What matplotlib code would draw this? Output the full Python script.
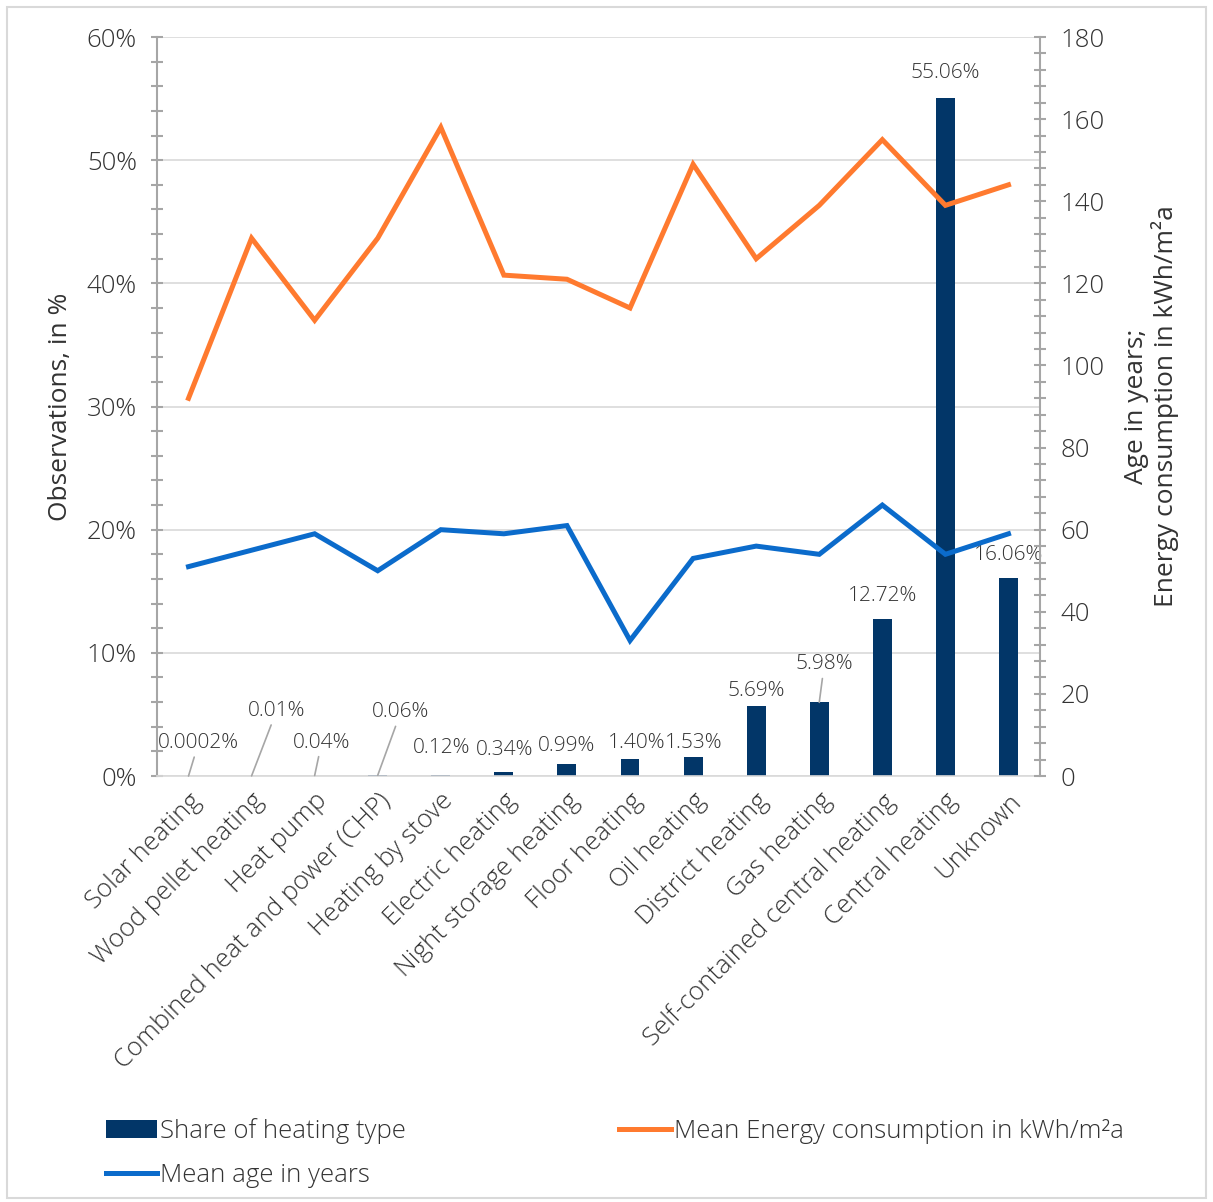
import matplotlib.pyplot as plt
from matplotlib.patches import Rectangle
from matplotlib.ticker import MultipleLocator, FuncFormatter

plt.rcParams['font.family'] = ['Open Sans', 'DejaVu Sans']
plt.rcParams['font.weight'] = 'light'

categories = ["Solar heating", "Wood pellet heating", "Heat pump",
              "Combined heat and power (CHP)", "Heating by stove", "Electric heating",
              "Night storage heating", "Floor heating", "Oil heating", "District heating",
              "Gas heating", "Self-contained central heating", "Central heating", "Unknown"]
share = [0.0002, 0.01, 0.04, 0.06, 0.12, 0.34, 0.99, 1.40, 1.53, 5.69, 5.98, 12.72, 55.06, 16.06]
share_labels = ["0.0002%", "0.01%", "0.04%", "0.06%", "0.12%", "0.34%", "0.99%", "1.40%",
                "1.53%", "5.69%", "5.98%", "12.72%", "55.06%", "16.06%"]
energy = [92, 131, 111, 131, 158, 122, 121, 114, 149, 126, 139, 155, 139, 144]
age = [51, 55, 59, 50, 60, 59, 61, 33, 53, 56, 54, 66, 54, 59]

# label offsets in pixels (dx, dy) and whether a leader line is drawn
label_pos = [(10, 33, True), (25, 65, True), (7, 33, True), (23, 63, True),
             (1, 27, False), (1, 22, False), (0, 18, False), (7, 16, False),
             (1, 14, False), (0, 15, False), (5, 38, True), (0, 23, False),
             (0, 25, False), (0, 23, False)]

navy = '#023668'
orange = '#FF7A2F'
blue = '#0B6BCB'
txt = '#333333'
tick_gray = '#A6A6A6'

fig = plt.figure(figsize=(12.13, 12.02), dpi=100)
fig.patches.append(Rectangle((0.006, 0.003), 0.988, 0.991, transform=fig.transFigure,
                             fill=False, edgecolor='#D9D9D9', linewidth=1.5))
ax = fig.add_axes([0.1294, 0.3544, 0.728, 0.6148])
ax2 = ax.twinx()

x = list(range(len(categories)))
bars = ax.bar(x, share, width=0.3, color=navy, label="Share of heating type", zorder=2)
l1, = ax2.plot(x, energy, color=orange, lw=3.6, label="Mean Energy consumption in kWh/m²a",
               solid_joinstyle='miter')
l2, = ax2.plot(x, age, color=blue, lw=3.6, label="Mean age in years", solid_joinstyle='miter')

ax.set_xlim(-0.5, len(categories) - 0.5)
ax.set_ylim(0, 60)
ax2.set_ylim(0, 180)
ax.yaxis.set_major_locator(MultipleLocator(10))
ax.yaxis.set_minor_locator(MultipleLocator(2))
ax.yaxis.set_major_formatter(FuncFormatter(lambda v, p: f"{v:.0f}%"))
ax2.yaxis.set_major_locator(MultipleLocator(20))
ax2.yaxis.set_minor_locator(MultipleLocator(4))

ax.grid(axis='y', color='#D9D9D9', lw=1.2, zorder=0)
ax.set_axisbelow(True)
for a in (ax, ax2):
    a.spines['top'].set_visible(False)
ax.spines['right'].set_visible(False)
ax2.spines['left'].set_visible(False)
ax2.spines['bottom'].set_visible(False)
ax.spines['bottom'].set_color('#D9D9D9')
ax.spines['bottom'].set_linewidth(1.2)
ax.spines['left'].set_color(tick_gray)
ax.spines['left'].set_linewidth(1.5)
ax2.spines['right'].set_color(tick_gray)
ax2.spines['right'].set_linewidth(1.5)

ax.tick_params(axis='y', which='both', direction='inout', length=9, width=1.5,
               color=tick_gray, labelsize=18.5, labelcolor=txt, pad=10)
ax2.tick_params(axis='y', which='both', direction='inout', length=9, width=1.5,
                color=tick_gray, labelsize=18.5, labelcolor=txt, pad=10)
ax.tick_params(axis='x', length=0, pad=9)
ax.set_xticks(x)
ax.set_xticklabels(categories, rotation=45, ha='right', rotation_mode='anchor',
                   fontsize=18.5, color=txt)

ax.set_ylabel("Observations, in %", fontsize=19, color=txt, labelpad=10)
ax2.set_ylabel("Age in years;\nEnergy consumption in kWh/m²a", fontsize=19, color=txt,
               labelpad=14, linespacing=1.1)

for i, (v, lab) in enumerate(zip(share, share_labels)):
    dx, dy, leader = label_pos[i]
    ax.annotate(lab, xy=(i, v), xytext=(dx, dy), textcoords='offset pixels',
                ha='center', va='center', fontsize=15, color=txt, zorder=5,
                arrowprops=dict(arrowstyle='-', color=tick_gray, lw=1.2, shrinkA=1,
                                shrinkB=0) if leader else None)

fig.legend(handles=[bars, l2, l1], ncol=2, loc='upper left',
           bbox_to_anchor=(0.068, 0.089), frameon=False, fontsize=18.5,
           handlelength=2.0, handletextpad=0.12, columnspacing=8.3,
           labelspacing=0.75, labelcolor=txt)

fig.savefig('out.png', dpi=100)
